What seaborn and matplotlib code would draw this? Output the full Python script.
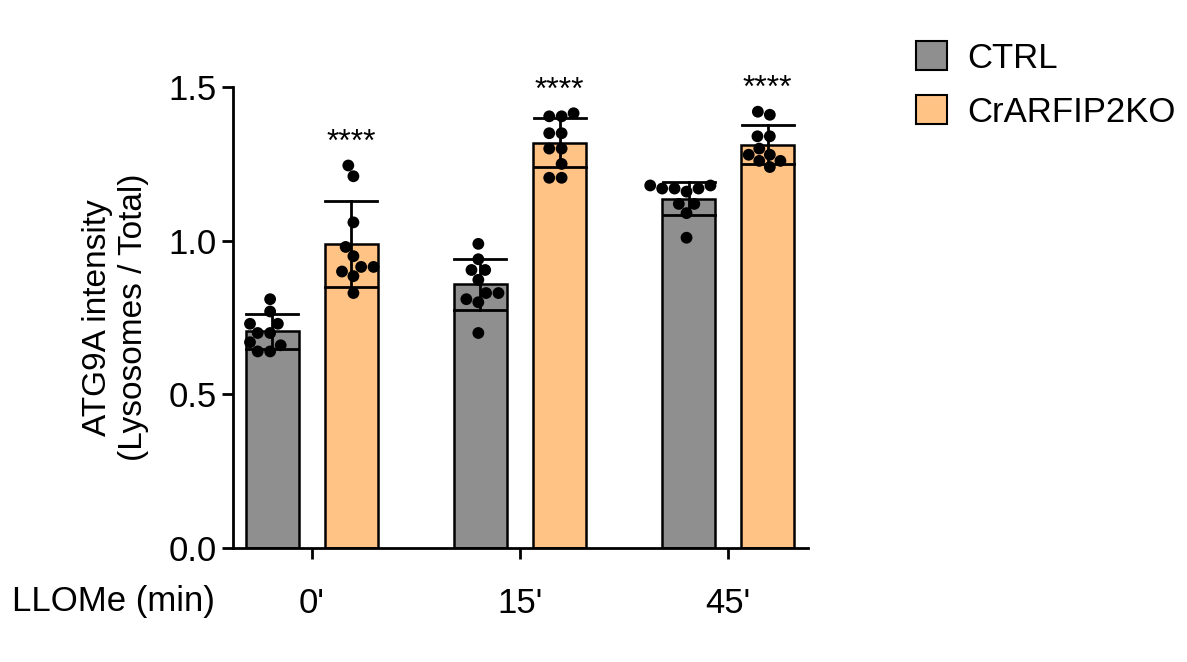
import matplotlib
matplotlib.use("Agg")
import matplotlib.pyplot as plt
import seaborn as sns
import pandas as pd
from matplotlib.patches import Patch

groups = ["0'", "15'", "45'"]
conditions = ["CTRL", "CrARFIP2KO"]
colors = ["#8f8f8f", "#ffc386"]
ctrl_0 = [0.81, 0.77, 0.73, 0.73, 0.70, 0.70, 0.67, 0.66, 0.64, 0.64]
ko_0 = [1.245, 1.21, 1.06, 0.98, 0.95, 0.915, 0.915, 0.90, 0.885, 0.83]
ctrl_15 = [0.99, 0.94, 0.905, 0.905, 0.873, 0.83, 0.83, 0.81, 0.80, 0.70]
ko_15 = [1.415, 1.405, 1.405, 1.35, 1.35, 1.30, 1.30, 1.25, 1.205, 1.205]
ctrl_45 = [1.18, 1.18, 1.17, 1.17, 1.17, 1.16, 1.12, 1.12, 1.09, 1.01]
ko_45 = [1.42, 1.41, 1.34, 1.34, 1.30, 1.28, 1.28, 1.26, 1.26, 1.24]
stars = ["****", "****", "****"]

rows = []
for g, c, k in zip(groups, [ctrl_0, ctrl_15, ctrl_45], [ko_0, ko_15, ko_45]):
    rows += [(g, "CTRL", v) for v in c] + [(g, "CrARFIP2KO", v) for v in k]
df = pd.DataFrame(rows, columns=["group", "cond", "val"])

plt.rcParams["font.family"] = "Liberation Sans"
fig = plt.figure(figsize=(11.87, 6.62), dpi=100)
ax = fig.add_axes([0.196, 0.172, 0.485, 0.6964])
pal = dict(zip(conditions, colors))
sns.barplot(data=df, x="group", y="val", hue="cond", hue_order=conditions, order=groups,
            palette=pal, width=0.76, gap=0.33, errorbar="sd", capsize=0.5,
            err_kws={"color": "black", "linewidth": 2}, edgecolor="black", linewidth=1.8,
            saturation=1, legend=False, ax=ax)
sns.swarmplot(data=df, x="group", y="val", hue="cond", hue_order=conditions, order=groups,
              palette={c: "black" for c in conditions}, dodge=True, size=8.5, legend=False, ax=ax)

for i, g in enumerate(groups):
    sub = df[(df.group == g) & (df.cond == "CrARFIP2KO")].val
    top = max(sub.mean() + sub.std(), sub.max())
    ax.text(i + 0.19, top + 0.025, stars[i], ha="center", va="bottom", fontsize=23)

ax.set_xlim(-0.38, 2.385)
ax.set_ylim(0, 1.5)
ax.set_yticks([0, 0.5, 1.0, 1.5])
ax.set_yticklabels(["0.0", "0.5", "1.0", "1.5"])
ax.set_xlabel("")
ax.set_ylabel("ATG9A intensity\n(Lysosomes / Total)", fontsize=24, labelpad=14)
for s in ["top", "right"]:
    ax.spines[s].set_visible(False)
for s in ["left", "bottom"]:
    ax.spines[s].set_linewidth(2)
ax.tick_params(axis="both", labelsize=25, width=2, length=8, direction="out")
ax.tick_params(axis="x", pad=20)
fig.text(0.01, 0.092, "LLOMe (min)", fontsize=25, va="center")

handles = [Patch(facecolor=c, edgecolor="black", linewidth=1.5, label=l) for c, l in zip(colors, conditions)]
fig.legend(handles=handles, loc="upper left", bbox_to_anchor=(0.745, 0.985), frameon=False,
           fontsize=25, handlelength=0.9, handleheight=0.9, labelspacing=0.6, handletextpad=0.6)
fig.savefig("out.png", dpi=100)
